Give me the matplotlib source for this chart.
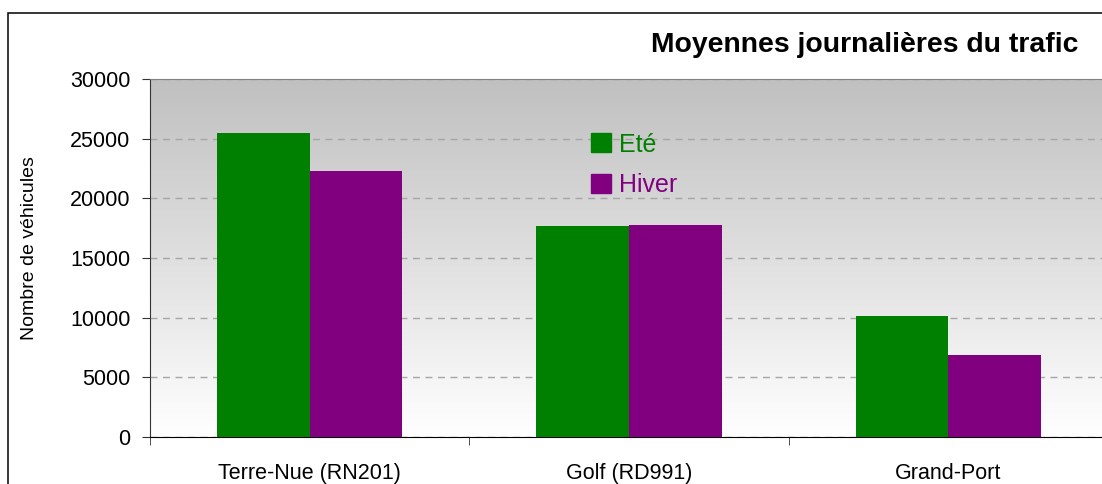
import numpy as np
import matplotlib
matplotlib.use("Agg")
import matplotlib.pyplot as plt
from matplotlib.patches import Patch, Rectangle
from matplotlib.colors import LinearSegmentedColormap

plt.rcParams['font.family'] = ['Liberation Sans', 'DejaVu Sans']

# Données
sites = ["Terre-Nue (RN201)", "Golf (RD991)", "Grand-Port"]
ete = [25500, 17700, 10100]
hiver = [22300, 17800, 6900]
series = ["Eté", "Hiver"]
couleurs = ["#008000", "#800080"]
yticks = [0, 5000, 10000, 15000, 20000, 25000, 30000]

W, H = 1102, 484
fig = plt.figure(figsize=(W / 100, H / 100), dpi=100)

# cadre extérieur (coupé à droite et en bas)
fig.patches.append(Rectangle((8 / W, -0.1), 1.2, 1 - 13 / H + 0.1, transform=fig.transFigure,
                             fill=False, edgecolor="black", linewidth=1.1))

ax = fig.add_axes([150 / W, 47 / H, 958 / W, 358 / H])

# fond en dégradé gris -> blanc
grad = np.linspace(1, 0, 256).reshape(-1, 1)
cmap = LinearSegmentedColormap.from_list("fond", ["#ffffff", "#c0c0c0"])
ax.imshow(grad, extent=[-0.5, 2.5, 0, 30000], aspect="auto", cmap=cmap,
          vmin=0, vmax=1, zorder=0, origin="upper")

x = np.arange(len(sites))
w = 0.29
ax.bar(x - w / 2, ete, width=w, color=couleurs[0], zorder=3, label=series[0])
ax.bar(x + w / 2, hiver, width=w, color=couleurs[1], zorder=3, label=series[1])

ax.set_xlim(-0.5, 2.5)
ax.set_ylim(0, 30000)
ax.set_yticks(yticks)
ax.set_yticklabels([str(v) for v in yticks], fontsize=15.5)
ax.yaxis.grid(True, linestyle=(0, (5, 4)), color="#a6a6a6", linewidth=1, zorder=1)
ax.set_axisbelow(True)

ax.set_xticks(x)
ax.set_xticklabels(sites, fontsize=15.5)
ax.tick_params(axis="x", length=0, pad=19)
ax.set_xticks([-0.5, 0.5, 1.5, 2.5], minor=True)
ax.tick_params(axis="x", which="minor", length=6, direction="out", color="#333333")
ax.tick_params(axis="y", length=6, direction="out", color="#333333", pad=8)

ax.spines["top"].set_color("#808080")
ax.spines["left"].set_color("#333333")
ax.spines["bottom"].set_color("black")
ax.spines["right"].set_visible(False)

fig.text(30 / W, 1 - 248 / H, "Nombre de véhicules", rotation=90, fontsize=14,
         ha="center", va="center")
fig.text(1078 / W, 1 - 45 / H, "Moyennes journalières du trafic", fontsize=20.4,
         fontweight="bold", ha="right", va="center")

handles = [Patch(facecolor=c, edgecolor=c) for c in couleurs]
ax.legend(handles, series, loc="upper left", bbox_to_anchor=(573 / W, 1 - 115 / H),
          bbox_transform=fig.transFigure, frameon=False, fontsize=18,
          labelcolor=couleurs, handlelength=0.8, handleheight=0.8,
          handletextpad=0.35, labelspacing=0.65, borderpad=0.2)

fig.savefig("out.png", dpi=100)
